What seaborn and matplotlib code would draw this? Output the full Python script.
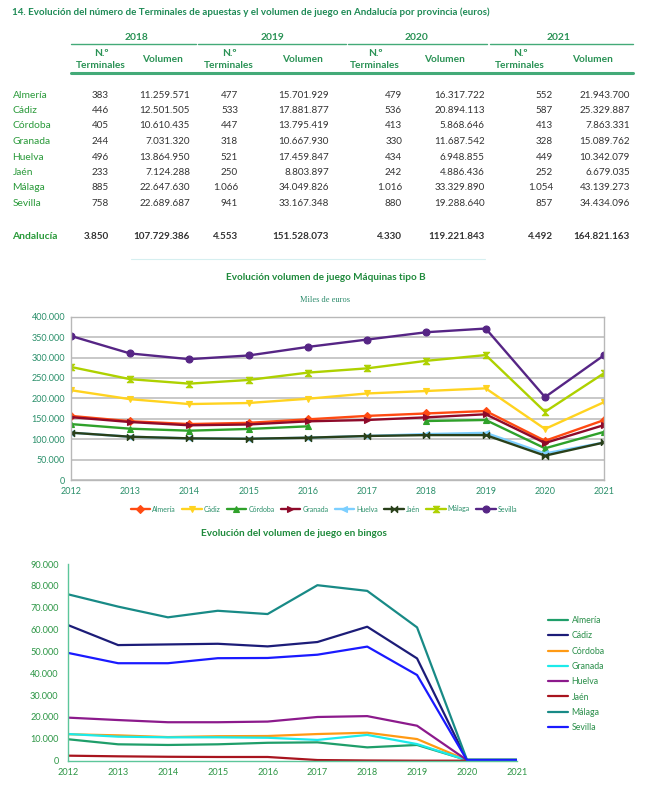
import numpy as np
import pandas as pd
import matplotlib
matplotlib.use("Agg")
import matplotlib.pyplot as plt
import seaborn as sns
from matplotlib.lines import Line2D
from matplotlib.path import Path
from matplotlib.ticker import FuncFormatter, MultipleLocator

sns.set_style("white")
plt.rcParams['font.family'] = ['Lato', 'DejaVu Sans']

# ---------------- Table data ----------------
table_title = ("14. Evolución del número de Terminales de apuestas y el volumen "
               "de juego en Andalucía por provincia (euros)")
table_years = ["2018", "2019", "2020", "2021"]
provinces = ["Almería", "Cádiz", "Córdoba", "Granada", "Huelva", "Jaén", "Málaga", "Sevilla"]
term_2018 = [383, 446, 405, 244, 496, 233, 885, 758]
vol_2018 = [11259571, 12501505, 10610435, 7031320, 13864950, 7124288, 22647630, 22689687]
term_2019 = [477, 533, 447, 318, 521, 250, 1066, 941]
vol_2019 = [15701929, 17881877, 13795419, 10667930, 17459847, 8803897, 34049826, 33167348]
term_2020 = [479, 536, 413, 330, 434, 242, 1016, 880]
vol_2020 = [16317722, 20894113, 5868646, 11687542, 6948855, 4886436, 33329890, 19288640]
term_2021 = [552, 587, 413, 328, 449, 252, 1054, 857]
vol_2021 = [21943700, 25329887, 7863331, 15089762, 10342079, 6679035, 43139273, 34434096]
total_label = "Andalucía"
totals = [3850, 107729386, 4553, 151528073, 4330, 119221843, 4492, 164821163]

# ---------------- Chart 1: Máquinas tipo B (miles de euros) ----------------
years = [2012, 2013, 2014, 2015, 2016, 2017, 2018, 2019, 2020, 2021]
maq_title = "Evolución volumen de juego Máquinas tipo B"
maq_subtitle = "Miles de euros"
maq_almeria = [157000, 144000, 137000, 140000, 148600, 157000, 163000, 169000, 96000, 147000]
maq_cadiz = [220000, 198000, 186000, 188600, 199000, 212000, 218000, 224500, 125000, 191000]
maq_cordoba = [137000, 125700, 120800, 125000, 131500, np.nan, 144500, 147000, 77600, 118000]
maq_granada = [154000, 142000, 134000, 136000, 143700, 147000, 153500, 161000, 90600, 134700]
maq_huelva = [116000, 106000, 102000, 101000, 103600, 107800, 112500, 115500, 65000, 92000]
maq_jaen = [116000, 106000, 102000, 101000, 103600, 107800, 110000, 110000, 59600, 92000]
maq_malaga = [277000, 247000, 236000, 245000, 263000, 273500, 292000, 306000, 167000, 262000]
maq_sevilla = [353000, 310000, 296000, 305000, 326000, 344000, 362000, 371000, 203000, 306000]

# ---------------- Chart 2: Bingos (miles de euros) ----------------
bingo_title = "Evolución del volumen de juego en bingos"
bin_almeria = [9800, 7500, 7200, 7500, 8200, 8400, 6100, 7200, 300, 300]
bin_cadiz = [62000, 52900, 53200, 53500, 52300, 54300, 61300, 46800, 300, 300]
bin_cordoba = [12100, 11600, 10800, 11200, 11300, 12200, 12800, 9900, 300, 300]
bin_granada = [12200, 11000, 10700, 10700, 10500, 9500, 11800, 7600, 300, 300]
bin_huelva = [19700, 18600, 17600, 17600, 17900, 20000, 20400, 16000, 300, 300]
bin_jaen = [2300, 2000, 1800, 1700, 1700, 300, 100, 0, 0, 0]
bin_malaga = [76100, 70500, 65600, 68600, 67100, 80300, 77700, 61000, 500, 500]
bin_sevilla = [49300, 44600, 44600, 46900, 47000, 48500, 52200, 39200, 300, 300]

W, H = 650, 786
fig = plt.figure(figsize=(6.5, 7.86), dpi=100)


def fx(x):
    return x / W


def fy(y):
    return 1 - y / H


def txt(x, y, s, ha="left", **kw):
    fig.text(fx(x), fy(y), s, ha=ha, va="center", **kw)


def hline(x0, x1, y, color, lw):
    fig.add_artist(Line2D([fx(x0), fx(x1)], [fy(y), fy(y)], color=color, lw=lw,
                          transform=fig.transFigure))


def fmt(v):
    return f"{int(v):,}".replace(",", ".")


GREEN_T = "#1d8a55"
GREEN_H = "#2a9255"
LINE_G = "#43aa78"
NUM_C = "#333333"

# ---------------- Table ----------------
txt(12.5, 12, table_title, fontsize=7.0, fontweight="bold", color=GREEN_T)
year_cx = [136.7, 272, 416.7, 559]
for yl, cx in zip(table_years, year_cx):
    txt(cx, 37.3, yl, ha="center", fontsize=7.4, fontweight="bold", color=GREEN_H)
for x0, x1 in [(71, 196), (198, 346), (348, 487), (490, 633)]:
    hline(x0, x1, 44.3, LINE_G, 1.0)
term_cx = [101, 229, 375, 520]
vol_cx = [163, 303, 445, 592]
for tc, vc in zip(term_cx, vol_cx):
    txt(tc, 53.5, "N.º", ha="center", fontsize=7.3, fontweight="bold", color=GREEN_H)
    txt(tc, 65, "Terminales", ha="center", fontsize=7.3, fontweight="bold", color=GREEN_H)
    txt(vc, 60, "Volumen", ha="center", fontsize=7.3, fontweight="bold", color=GREEN_H)
hline(71, 633, 72.7, LINE_G, 2.2)

col_right = [109, 190, 238, 329, 402, 485, 553, 630]
row_y = [95, 110.5, 126, 141.5, 157, 172.5, 188, 203.5]
cols = [term_2018, vol_2018, term_2019, vol_2019, term_2020, vol_2020, term_2021, vol_2021]
for i, (prov, ry) in enumerate(zip(provinces, row_y)):
    txt(12.5, ry, prov, fontsize=7.4, color="#2a9a3a")
    for col, xr in zip(cols, col_right):
        txt(xr, ry, fmt(col[i]), ha="right", fontsize=7.1, color=NUM_C)
txt(12.5, 236.7, total_label, fontsize=7.4, fontweight="bold", color="#2a9a3a")
for v, xr in zip(totals, col_right):
    txt(xr, 236.7, fmt(v), ha="right", fontsize=7.1, fontweight="bold", color=NUM_C)

hline(131, 485, 259, "#d6eff0", 0.8)

# ---------------- Chart 1 ----------------
bowtie = Path([(-1, -1), (-1, 1), (1, -1), (1, 1), (-1, -1)])
hourglass = Path([(-1, 1), (1, 1), (-1, -1), (1, -1), (-1, 1)])

maq_series = [
    ("Almería", maq_almeria, "#ff4a12", "D", 3.6),
    ("Cádiz", maq_cadiz, "#ffd320", "v", 4.8),
    ("Córdoba", maq_cordoba, "#2fa12a", "^", 4.8),
    ("Granada", maq_granada, "#8e0a2a", ">", 4.8),
    ("Huelva", maq_huelva, "#7ccfff", "<", 4.8),
    ("Jaén", maq_jaen, "#29401a", bowtie, 4.6),
    ("Málaga", maq_malaga, "#aed100", hourglass, 4.6),
    ("Sevilla", maq_sevilla, "#562585", "o", 5.0),
]

txt(325.5, 277.7, maq_title, ha="center", fontsize=7.2, fontweight="bold", color="#1f8a3c")
txt(325.5, 299.5, maq_subtitle, ha="center", fontsize=6, color="#2a8a6a",
    family=["Liberation Serif", "DejaVu Serif"])

ax1 = fig.add_axes([fx(70.7), fy(480), (604.3 - 70.7) / W, (480 - 316.7) / H])
for name, vals, col, mk, ms in maq_series:
    df = pd.DataFrame({"year": years, "value": vals})
    df["grp"] = df["value"].isna().cumsum()
    df = df.dropna()
    first = True
    for _, seg in df.groupby("grp"):
        sns.lineplot(data=seg, x="year", y="value", ax=ax1, color=col, lw=1.7,
                     marker=mk, markersize=ms, markeredgecolor=col, markeredgewidth=0.8,
                     label=name if first else None, legend=False)
        first = False
ax1.set_xlim(2012, 2021)
ax1.set_ylim(0, 400000)
ax1.set_xticks(years)
ax1.yaxis.set_major_locator(MultipleLocator(50000))
ax1.yaxis.set_major_formatter(FuncFormatter(lambda v, p: fmt(v)))
ax1.set_xlabel("")
ax1.set_ylabel("")
ax1.yaxis.grid(True, color="#c4c4c4", lw=1.3)
ax1.set_axisbelow(True)
for s in ax1.spines.values():
    s.set_color("#b8b8b8")
    s.set_linewidth(1.0)
ax1.tick_params(axis="both", labelsize=6.5, labelcolor="#2a8f6a", length=0, pad=4)
ax1.tick_params(axis="x", length=3, color="#b8b8b8", direction="out", pad=2)

h, l = ax1.get_legend_handles_labels()
fig.legend(h, l, ncol=8, loc="center", bbox_to_anchor=(fx(324), fy(509)), frameon=False,
           fontsize=5, handlelength=2.8, handletextpad=0.3, columnspacing=0.9,
           labelcolor="#2a8f6a", borderpad=0)

# ---------------- Chart 2 ----------------
bin_series = [
    ("Almería", bin_almeria, "#1f9e6a"),
    ("Cádiz", bin_cadiz, "#1c1c78"),
    ("Córdoba", bin_cordoba, "#ff9a14"),
    ("Granada", bin_granada, "#1ceaea"),
    ("Huelva", bin_huelva, "#8c1a8c"),
    ("Jaén", bin_jaen, "#a8141e"),
    ("Málaga", bin_malaga, "#188a86"),
    ("Sevilla", bin_sevilla, "#1a1aff"),
]
txt(294, 534, bingo_title, ha="center", fontsize=7.2, fontweight="bold", color="#1f8a3c")

ax2 = fig.add_axes([fx(68.3), fy(760.7), (516.7 - 68.3) / W, (760.7 - 564) / H])
bdf = pd.concat([pd.DataFrame({"year": years, "value": v, "prov": n}) for n, v, c in bin_series])
sns.lineplot(data=bdf, x="year", y="value", hue="prov", ax=ax2,
             palette={n: c for n, v, c in bin_series}, lw=1.6, legend=True)
ax2.set_xlim(2012, 2021)
ax2.set_ylim(0, 90000)
ax2.set_xticks(years)
ax2.yaxis.set_major_locator(MultipleLocator(10000))
ax2.yaxis.set_major_formatter(FuncFormatter(lambda v, p: fmt(v)))
ax2.set_xlabel("")
ax2.set_ylabel("")
for side in ["top", "right"]:
    ax2.spines[side].set_visible(False)
for side in ["left", "bottom"]:
    ax2.spines[side].set_color("#5cc69a")
    ax2.spines[side].set_linewidth(1.0)
ax2.tick_params(axis="both", labelsize=6.6, labelcolor="#2c9645", pad=4)
ax2.tick_params(axis="x", length=5, direction="inout", color="#5cc69a", width=1, pad=3)
ax2.tick_params(axis="y", length=3, direction="out", color="#5cc69a", width=1)
ax2.legend(loc="upper left", bbox_to_anchor=(fx(548), fy(616)), bbox_transform=fig.transFigure,
           frameon=False, fontsize=6.3, handlelength=2.3, handletextpad=0.4,
           labelspacing=0.72, borderpad=0, borderaxespad=0, labelcolor="#2a8f4a", title=None)

fig.savefig("out.png", dpi=100)
